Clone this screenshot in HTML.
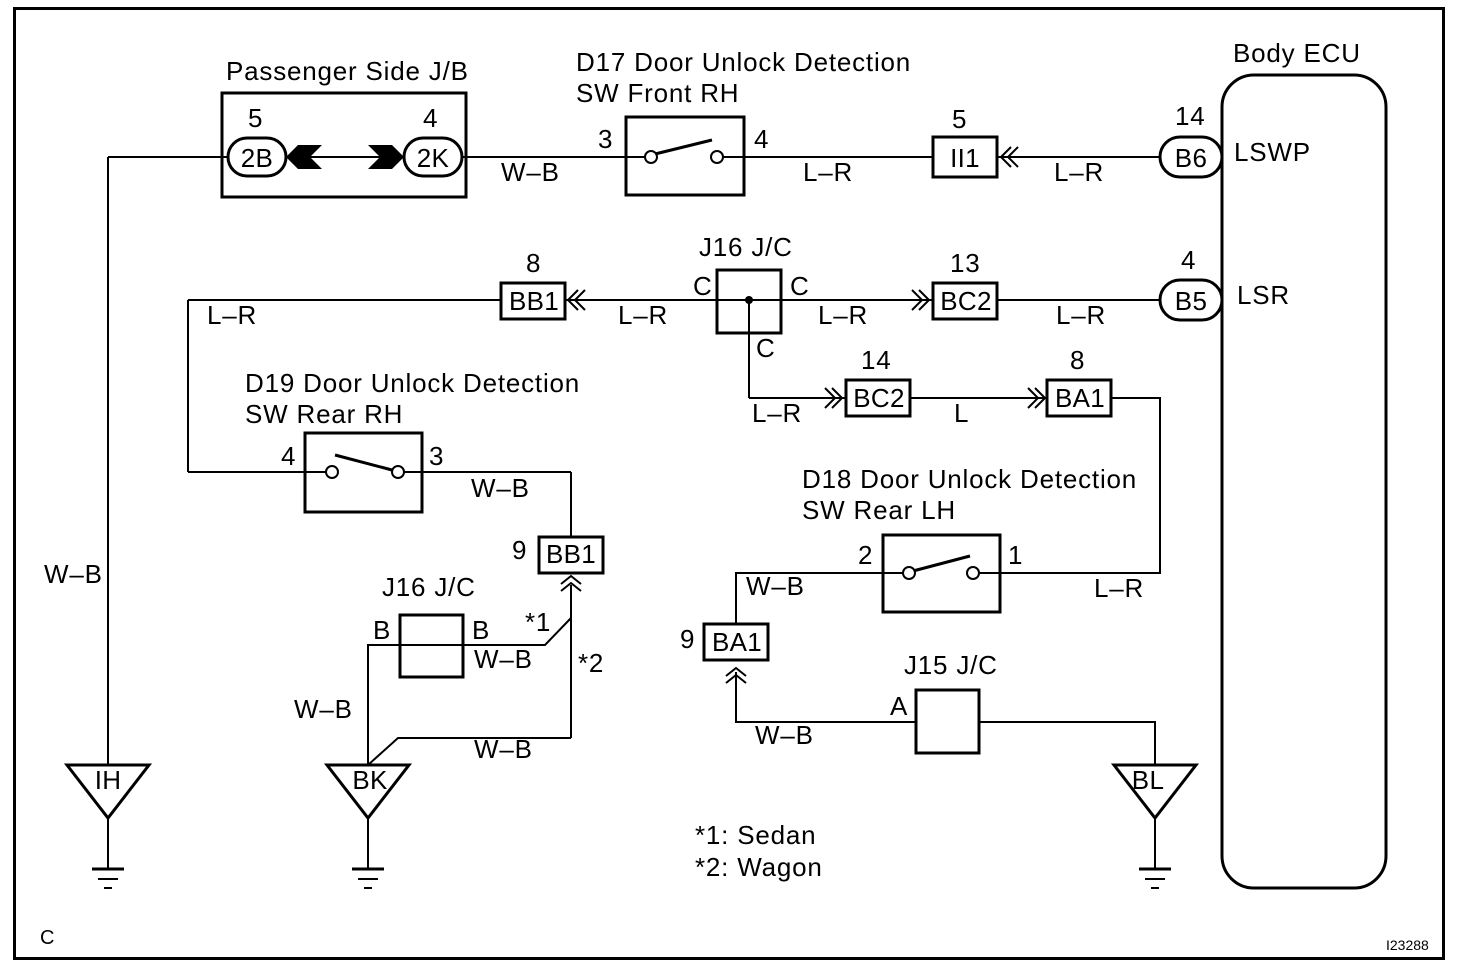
<!DOCTYPE html>
<html><head><meta charset="utf-8"><style>
html,body{margin:0;padding:0;background:#fff;}
svg{display:block;}
text{font-family:"Liberation Sans",Arial,sans-serif;font-size:26px;letter-spacing:0.8px;fill:#000;}
.m{text-anchor:middle;letter-spacing:0.3px;}
</style></head><body>
<svg width="1472" height="972" viewBox="0 0 1472 972" xmlns="http://www.w3.org/2000/svg">
<rect x="14.5" y="8.5" width="1429" height="950" fill="none" stroke="#000" stroke-width="3"/>
<g fill="none" stroke="#000" stroke-width="2">
<line x1="108" y1="157" x2="228" y2="157"/>
<line x1="286" y1="157" x2="404" y2="157"/>
<line x1="462" y1="157" x2="651" y2="157"/>
<line x1="717" y1="157" x2="1160" y2="157"/>
<line x1="108" y1="157" x2="108" y2="765"/>
<line x1="188" y1="300" x2="1160" y2="300"/>
<line x1="188" y1="300" x2="188" y2="472"/>
<line x1="188" y1="472" x2="332" y2="472"/>
<line x1="398" y1="472" x2="571" y2="472"/>
<line x1="571" y1="472" x2="571" y2="537"/>
<line x1="571" y1="585" x2="571" y2="738"/>
<polyline points="571,618 545,645 368,645 368,765"/>
<polyline points="571,738 398,738 368,765"/>
<line x1="749" y1="300" x2="749" y2="398"/>
<line x1="749" y1="398" x2="1047" y2="398"/>
<polyline points="1111,398 1160,398 1160,573 973,573"/>
<polyline points="909,573 736,573 736,624"/>
<polyline points="736,672 736,722 916,722"/>
<polyline points="979,722 1155,722 1155,765"/>
</g>
<circle cx="749" cy="300" r="4" fill="#000"/>
<g fill="none" stroke="#000" stroke-width="3">
<rect x="222" y="93" width="244" height="104"/>
<rect x="717" y="270" width="64" height="63"/>
<rect x="400" y="615" width="63" height="62"/>
<rect x="1222" y="75" width="164" height="813" rx="32"/>
</g>
<g fill="#fff" stroke="#000" stroke-width="3">
<rect x="626" y="117" width="118" height="78"/>
<rect x="933" y="137" width="64" height="40"/>
<rect x="501" y="283" width="64" height="36"/>
<rect x="933" y="283" width="64" height="36"/>
<rect x="846" y="380" width="64" height="36"/>
<rect x="1047" y="380" width="64" height="36"/>
<rect x="305" y="433" width="117" height="79"/>
<rect x="539" y="537" width="64" height="36"/>
<rect x="883" y="535" width="117" height="77"/>
<rect x="704" y="624" width="64" height="36"/>
<rect x="916" y="690" width="63" height="63"/>
<rect x="228" y="138" width="58" height="38" rx="19"/>
<rect x="404" y="138" width="58" height="38" rx="19"/>
<rect x="1160" y="137" width="62" height="40" rx="20"/>
<rect x="1160" y="280" width="62" height="40" rx="20"/>
</g>
<g fill="none" stroke="#000" stroke-width="2">
<polyline points="1018,147 1008,157 1018,167"/><polyline points="1011,147 1001,157 1011,167"/>
<polyline points="578,290 568,300 578,310"/><polyline points="585,290 575,300 585,310"/>
<polyline points="919,290 929,300 919,310"/><polyline points="912,290 922,300 912,310"/>
<polyline points="832,388 842,398 832,408"/><polyline points="825,388 835,398 825,408"/>
<polyline points="1035,388 1045,398 1035,408"/><polyline points="1028,388 1038,398 1028,408"/>
<polyline points="561,584 571,576 581,584"/><polyline points="561,591 571,583 581,591"/>
<polyline points="726,676 736,668 746,676"/><polyline points="726,683 736,675 746,683"/>
</g>
<polygon points="286,157 298,145 322,145 310,157 322,169 298,169" fill="#000"/>
<polygon points="404,157 392,145 368,145 380,157 368,169 392,169" fill="#000"/>
<g fill="#fff" stroke="#000" stroke-width="2">
<line x1="626" y1="157" x2="651" y2="157"/><line x1="717" y1="157" x2="744" y2="157"/>
<line x1="655" y1="154" x2="712" y2="140" stroke-width="3"/>
<circle cx="651" cy="157" r="6"/><circle cx="717" cy="157" r="6"/>
<line x1="305" y1="472" x2="332" y2="472"/><line x1="398" y1="472" x2="422" y2="472"/>
<line x1="335" y1="455" x2="392" y2="470" stroke-width="3"/>
<circle cx="332" cy="472" r="6"/><circle cx="398" cy="472" r="6"/>
<line x1="883" y1="573" x2="909" y2="573"/><line x1="973" y1="573" x2="1000" y2="573"/>
<line x1="913" y1="571" x2="970" y2="556" stroke-width="3"/>
<circle cx="909" cy="573" r="6"/><circle cx="973" cy="573" r="6"/>
</g>
<g fill="none" stroke="#000">
<polygon points="67,765 149,765 108,818" stroke-width="3"/>
<line x1="108" y1="818" x2="108" y2="868" stroke-width="2"/>
<line x1="92" y1="869" x2="124" y2="869" stroke-width="3"/><line x1="98" y1="879" x2="118" y2="879" stroke-width="2"/><line x1="104" y1="888" x2="112" y2="888" stroke-width="2"/>
<polygon points="327,765 409,765 368,818" stroke-width="3"/>
<line x1="368" y1="818" x2="368" y2="868" stroke-width="2"/>
<line x1="352" y1="869" x2="384" y2="869" stroke-width="3"/><line x1="358" y1="879" x2="378" y2="879" stroke-width="2"/><line x1="364" y1="888" x2="372" y2="888" stroke-width="2"/>
<polygon points="1114,765 1196,765 1155,818" stroke-width="3"/>
<line x1="1155" y1="818" x2="1155" y2="868" stroke-width="2"/>
<line x1="1139" y1="869" x2="1171" y2="869" stroke-width="3"/><line x1="1145" y1="879" x2="1165" y2="879" stroke-width="2"/><line x1="1151" y1="888" x2="1159" y2="888" stroke-width="2"/>
</g>
<text x="226" y="80">Passenger Side J/B</text>
<text x="248" y="127">5</text><text x="423" y="127">4</text>
<text class="m" x="257" y="167">2B</text><text class="m" x="433" y="167">2K</text>
<text x="576" y="71">D17 Door Unlock Detection</text>
<text x="576" y="102">SW Front RH</text>
<text x="598" y="148">3</text><text x="754" y="148">4</text>
<text x="501" y="181">W–B</text><text x="803" y="181">L–R</text>
<text x="952" y="128">5</text><text class="m" x="965" y="167">II1</text>
<text x="1054" y="181">L–R</text>
<text x="1175" y="125">14</text><text class="m" x="1191" y="167">B6</text>
<text x="1233" y="62">Body ECU</text>
<text x="1234" y="161">LSWP</text>
<text x="1181" y="269">4</text><text class="m" x="1191" y="310">B5</text>
<text x="1237" y="304">LSR</text>
<text x="699" y="256">J16 J/C</text>
<text x="693" y="295">C</text><text x="790" y="295">C</text><text x="756" y="357">C</text>
<text x="526" y="272">8</text><text class="m" x="534" y="310">BB1</text>
<text x="207" y="324">L–R</text><text x="618" y="324">L–R</text><text x="818" y="324">L–R</text><text x="1056" y="324">L–R</text>
<text x="950" y="272">13</text><text class="m" x="966" y="310">BC2</text>
<text x="861" y="369">14</text><text class="m" x="879" y="407">BC2</text>
<text x="1070" y="369">8</text><text class="m" x="1080" y="407">BA1</text>
<text x="752" y="422">L–R</text><text x="954" y="422">L</text>
<text x="245" y="392">D19 Door Unlock Detection</text>
<text x="245" y="423">SW Rear RH</text>
<text x="281" y="465">4</text><text x="429" y="465">3</text>
<text x="471" y="497">W–B</text>
<text x="512" y="559">9</text><text class="m" x="571" y="563">BB1</text>
<text x="382" y="596">J16 J/C</text>
<text x="373" y="639">B</text><text x="472" y="639">B</text>
<text x="525" y="631">*1</text><text x="578" y="672">*2</text>
<text x="474" y="668">W–B</text>
<text x="294" y="718">W–B</text><text x="474" y="758">W–B</text>
<text x="44" y="583">W–B</text>
<text class="m" x="108" y="789">IH</text><text class="m" x="370" y="789">BK</text><text class="m" x="1148" y="789">BL</text>
<text x="802" y="488">D18 Door Unlock Detection</text>
<text x="802" y="519">SW Rear LH</text>
<text x="858" y="564">2</text><text x="1008" y="564">1</text>
<text x="746" y="595">W–B</text><text x="1094" y="597">L–R</text>
<text x="680" y="648">9</text><text class="m" x="737" y="651">BA1</text>
<text x="904" y="674">J15 J/C</text>
<text x="890" y="715">A</text>
<text x="755" y="744">W–B</text>
<text x="695" y="844">*1: Sedan</text>
<text x="695" y="876">*2: Wagon</text>
<text x="40" y="944" style="font-size:20px;letter-spacing:0">C</text>
<text x="1386" y="950" style="font-size:14px;letter-spacing:0">I23288</text>
</svg>
</body></html>
